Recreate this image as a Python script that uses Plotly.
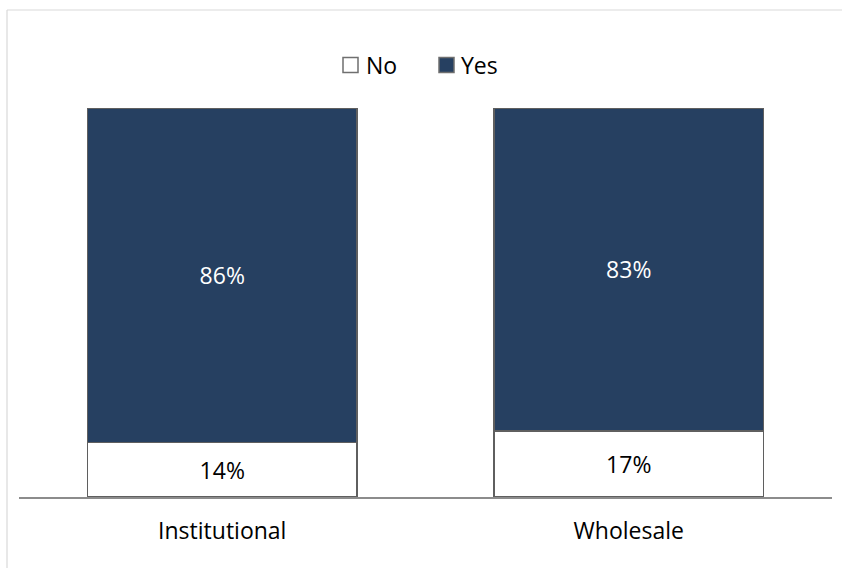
import plotly.graph_objects as go

categories = ["Institutional", "Wholesale"]
no_values = [14, 17]
yes_values = [86, 83]
series_names = ["No", "Yes"]
series_colors = ["#ffffff", "#264061"]

W, H = 842, 568
ML, MR, MT, MB = 19, 10, 108, 71
plot_w = W - ML - MR
plot_h = H - MT - MB

font_family = "'Open Sans', sans-serif"
outline = dict(color="#5f5f5f", width=1.5)
FS = 23

fig = go.Figure()
fig.add_trace(go.Bar(
    name=series_names[0], x=categories, y=no_values,
    marker=dict(color=series_colors[0], line=outline),
    text=[f"{v}%" for v in no_values], textposition="inside",
    insidetextanchor="middle",
    textfont=dict(color="#000000", size=FS, family=font_family),
))
fig.add_trace(go.Bar(
    name=series_names[1], x=categories, y=yes_values,
    marker=dict(color=series_colors[1], line=outline),
    text=[f"{v}%" for v in yes_values], textposition="inside",
    insidetextanchor="middle",
    textfont=dict(color="#ffffff", size=FS, family=font_family),
))


def px_x(p):
    return (p - ML) / plot_w


def px_y(p):
    return 1 + (MT - p) / plot_h


# light outer frame of the chart area (top and left edges)
frame = dict(color="#d9d9d9", width=1.2)
fig.add_shape(type="line", xref="paper", yref="paper",
              x0=px_x(7), x1=px_x(842), y0=px_y(10), y1=px_y(10),
              line=frame, layer="below")
fig.add_shape(type="line", xref="paper", yref="paper",
              x0=px_x(7), x1=px_x(7), y0=px_y(10), y1=px_y(568),
              line=frame, layer="below")

# legend: square swatch followed by series name
legend_items = [(343, 364), (439, 459)]
for (sx, tx), name, color in zip(legend_items, series_names, series_colors):
    fig.add_shape(type="rect", xref="paper", yref="paper",
                  x0=px_x(sx), x1=px_x(sx + 15), y0=px_y(72.5), y1=px_y(57.5),
                  fillcolor=color, line=dict(color="#6f6f6f", width=1.5))
    fig.add_annotation(xref="paper", yref="paper", x=px_x(tx), y=px_y(65),
                       xanchor="left", yanchor="middle", showarrow=False,
                       text=name, font=dict(size=FS, family=font_family,
                                            color="#000000"))

fig.update_layout(
    width=W, height=H,
    margin=dict(l=ML, r=MR, t=MT, b=MB),
    barmode="stack",
    bargap=0.336,
    paper_bgcolor="#ffffff",
    plot_bgcolor="#ffffff",
    font=dict(family=font_family, size=FS, color="#000000"),
    showlegend=False,
    xaxis=dict(showline=True, linecolor="#8c8c8c", linewidth=1.5,
               ticks="", showgrid=False, tickfont=dict(size=FS),
               ticklabelstandoff=13),
    yaxis=dict(range=[0, 100], visible=False, showgrid=False),
    uniformtext=dict(minsize=10, mode="show"),
)

fig.write_html("out.html")
